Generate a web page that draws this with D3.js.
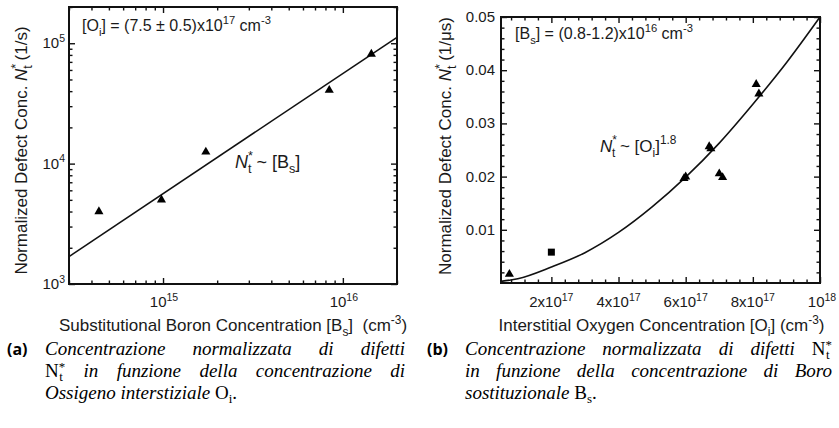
<!DOCTYPE html>
<html>
<head>
<meta charset="utf-8">
<script src="https://cdn.jsdelivr.net/npm/d3@7"></script>
<style>
	body { margin: 0; background: #fff; }
	svg { display: block; }
	text { font-family: "Liberation Sans", Arial, sans-serif; fill: #1a1a1a; }
	.cap text { font-family: "Liberation Serif", "Times New Roman", serif; fill: #000; }
</style>
</head>
<body>
<svg id="fig" width="839" height="428"></svg>
<script>
// ---- panel (a): defect conc. vs boron conc. (log-log) ----
const boronConc = [4.4e14, 9.8e14, 1.73e15, 8.4e15, 1.44e16];
const boronDefects = [4060, 5080, 12700, 41400, 82600];
const boronFitConc = [3e14, 2e16];
const boronFitDefects = [1690, 112000];
const boronXTicks = [1e15, 1e16];
const boronYTicks = [1e3, 1e4, 1e5];

// ---- panel (b): defect conc. vs oxygen conc. (linear) ----
const oxyConc = [0.75e17, 5.95e17, 6.0e17, 6.7e17, 6.75e17, 7.0e17, 7.1e17, 8.1e17, 8.18e17];
const oxyDefects = [0.0018, 0.0198, 0.0201, 0.0258, 0.0254, 0.0207, 0.0200, 0.0375, 0.0357];
const oxySquareConc = [2e17];
const oxySquareDefects = [0.0058];
const oxyFitConc = [0.5e17, 1e17, 2e17, 3e17, 4e17, 5e17, 6e17, 7e17, 8e17, 9e17, 10e17];
const oxyFitDefects = [0.0003, 0.0008, 0.0030, 0.0057, 0.0095, 0.0143, 0.0199, 0.0263, 0.0336, 0.0414, 0.0500];
const oxyXTicks = [2e17, 4e17, 6e17, 8e17, 1e18];
const oxyXLabels = [["2x10", "17"], ["4x10", "17"], ["6x10", "17"], ["8x10", "17"], ["10", "18"]];
const oxyYTicks = [0.01, 0.02, 0.03, 0.04, 0.05];
const oxyYLabels = ["0.01", "0.02", "0.03", "0.04", "0.05"];

const svg = d3.select('#fig');

// frame with inward ticks on all four sides
function frame(g, x, y, w, h, xMajor, xMinor, yMajor, yMinor) {
	const sides = [
		[d3.axisBottom(x), `translate(0,${h})`, xMajor, xMinor],
		[d3.axisTop(x), null, xMajor, xMinor],
		[d3.axisLeft(y), null, yMajor, yMinor],
		[d3.axisRight(y), `translate(${w},0)`, yMajor, yMinor]
	];
	sides.forEach(([ax, tr, major, minor]) => {
		[[major, -6], [minor, -3.5]].forEach(([vals, size]) => {
			const a = g.append('g').attr('transform', tr)
				.call(ax.tickValues(vals).tickSize(size).tickFormat(''));
			a.select('.domain').remove();
			a.selectAll('line').attr('stroke', '#111').attr('stroke-width', 1.4);
		});
	});
	g.append('rect').attr('width', w).attr('height', h)
		.attr('fill', 'none').attr('stroke', '#111').attr('stroke-width', 2);
}

// text with base + superscript
function powText(t, base, exp, fs) {
	t.append('tspan').text(base);
	t.append('tspan').attr('dy', -fs * 0.42).attr('font-size', fs * 0.7).text(exp);
}

// segments: [text, offset (y rel. baseline), size factor, italic, dx]
function segText(t, segs, fs) {
	let cur = 0;
	segs.forEach(([s, off, k, it, dx]) => {
		const ts = t.append('tspan').text(s).attr('dy', off - cur);
		cur = off;
		if (k !== 1) ts.attr('font-size', fs * k);
		if (it) ts.attr('font-style', 'italic');
		if (dx) ts.attr('dx', dx);
	});
}

function triangles(g, xs, ys, x, y) {
	g.selectAll(null).data(xs).enter().append('path')
		.attr('d', d3.symbol(d3.symbolTriangle, 36))
		.attr('transform', (d, i) => `translate(${x(d)},${y(ys[i]) + 0.8})`)
		.attr('fill', '#000');
}

// ===================== panel (a) =====================
{
	const L = 69, T = 7, W = 328, H = 277;
	const x = d3.scaleLog().domain([3e14, 2e16]).range([0, W]);
	const y = d3.scaleLog().domain([1e3, 2e5]).range([H, 0]);
	const g = svg.append('g').attr('transform', `translate(${L},${T})`);

	const xMinor = x.ticks().filter(v => !boronXTicks.includes(v));
	const yMinor = y.ticks().filter(v => !boronYTicks.includes(v));
	frame(g, x, y, W, H, boronXTicks, xMinor, boronYTicks, yMinor);

	g.append('path')
		.datum(boronFitConc.map((c, i) => [c, boronFitDefects[i]]))
		.attr('d', d3.line().x(d => x(d[0])).y(d => y(d[1])))
		.attr('fill', 'none').attr('stroke', '#111').attr('stroke-width', 1.6);
	triangles(g, boronConc, boronDefects, x, y);

	boronYTicks.forEach(v => {
		const t = g.append('text').attr('x', -4).attr('y', y(v) + 5)
			.attr('text-anchor', 'end').attr('font-size', 15);
		powText(t, '10', String(Math.round(Math.log10(v))), 15);
	});
	boronXTicks.forEach(v => {
		const t = g.append('text').attr('x', x(v) + 1).attr('y', H + 23)
			.attr('text-anchor', 'middle').attr('font-size', 15);
		powText(t, '10', String(Math.round(Math.log10(v))), 15);
	});

	const xt = g.append('text').attr('x', W / 2).attr('y', H + 47)
		.attr('text-anchor', 'middle').attr('font-size', 17).attr('xml:space', 'preserve');
	segText(xt, [['Substitutional Boron Concentration [B', 0, 1], ['s', 5, 0.7], [']\u00a0 (cm', 0, 1], ['-3', -7, 0.7], [')', 0, 1]], 17);

	const yt = g.append('text').attr('transform', `translate(${27 - L},${H / 2 + 5}) rotate(-90)`)
		.attr('text-anchor', 'middle').attr('font-size', 17);
	segText(yt, [['Normalized Defect Conc. ', 0, 1], ['N', 0, 1, true], ['*', -7, 0.75], ['t', 5, 0.75, false, -5], [' (1/s)', 0, 1]], 17);

	const a1 = g.append('text').attr('x', 13).attr('y', 24).attr('font-size', 16);
	segText(a1, [['[O', 0, 1], ['i', 5, 0.7], ['] = (7.5 \u00b1 0.5)x10', 0, 1], ['17', -7, 0.7], [' cm', 0, 1], ['-3', -7, 0.7]], 16);

	const a2 = g.append('text').attr('x', 166).attr('y', 161).attr('font-size', 18);
	segText(a2, [['N', 0, 1, true], ['*', -8, 0.7], ['t', 5, 0.7, false, -5], [' ~ [B', 0, 1], ['s', 5, 0.7], [']', 0, 1]], 18);
}

// ===================== panel (b) =====================
{
	const L = 501, T = 17, W = 319, H = 266;
	const x = d3.scaleLinear().domain([0.5e17, 1e18]).range([0, W]);
	const y = d3.scaleLinear().domain([0, 0.05]).range([H, 0]);
	const g = svg.append('g').attr('transform', `translate(${L},${T})`);

	const xMinor = d3.range(0.8e17, 1.0e18 + 1, 0.4e17).filter(v => !oxyXTicks.some(m => Math.abs(m - v) < 1e15));
	const yMinor = d3.range(0.002, 0.05, 0.002).filter(v => !oxyYTicks.some(m => Math.abs(m - v) < 1e-6));
	frame(g, x, y, W, H, oxyXTicks, xMinor, oxyYTicks, yMinor);

	g.append('path')
		.datum(oxyFitConc.map((c, i) => [c, oxyFitDefects[i]]))
		.attr('d', d3.line().curve(d3.curveMonotoneX).x(d => x(d[0])).y(d => y(d[1])))
		.attr('fill', 'none').attr('stroke', '#111').attr('stroke-width', 1.6);
	triangles(g, oxyConc, oxyDefects, x, y);
	g.selectAll(null).data(oxySquareConc).enter().append('rect')
		.attr('x', d => x(d) - 3.5).attr('y', (d, i) => y(oxySquareDefects[i]) - 3.5)
		.attr('width', 7).attr('height', 7).attr('fill', '#000');

	oxyYTicks.forEach((v, i) => {
		g.append('text').attr('x', -6).attr('y', y(v) + 5)
			.attr('text-anchor', 'end').attr('font-size', 15).text(oxyYLabels[i]);
	});
	oxyXTicks.forEach((v, i) => {
		const t = g.append('text').attr('x', x(v) + (i === 4 ? 2 : 0)).attr('y', H + 24)
			.attr('text-anchor', 'middle').attr('font-size', 15);
		powText(t, oxyXLabels[i][0], oxyXLabels[i][1], 15);
	});

	const xt = g.append('text').attr('x', W / 2 + 1).attr('y', H + 48)
		.attr('text-anchor', 'middle').attr('font-size', 17);
	segText(xt, [['Interstitial Oxygen Concentration [O', 0, 1], ['i', 5, 0.7], ['] (cm', 0, 1], ['-3', -7, 0.7], [')', 0, 1]], 17);

	const yt = g.append('text').attr('transform', `translate(${451 - L},${H / 2 - 4}) rotate(-90)`)
		.attr('text-anchor', 'middle').attr('font-size', 17);
	segText(yt, [['Normalized Defect Conc. ', 0, 1], ['N', 0, 1, true], ['*', -7, 0.75], ['t', 5, 0.75, false, -5], [' (1/\u03bcs)', 0, 1]], 17);

	const a1 = g.append('text').attr('x', 14).attr('y', 22).attr('font-size', 16);
	segText(a1, [['[B', 0, 1], ['s', 5, 0.7], ['] = (0.8-1.2)x10', 0, 1], ['16', -7, 0.7], [' cm', 0, 1], ['-3', -7, 0.7]], 16);

	const a2 = g.append('text').attr('x', 99).attr('y', 135).attr('font-size', 17);
	segText(a2, [['N', 0, 1, true], ['*', -8, 0.7], ['t', 5, 0.7, false, -5], [' ~ [O', 0, 1], ['i', 5, 0.7], [']', 0, 1], ['1.8', -8, 0.7]], 17);
}

// ===================== captions =====================
const cap = svg.append('g').attr('class', 'cap');
const FS = 19;

// word = list of [text, kind]; kinds: i italic, r roman, sup, sub, ssub (sub stacked under sup)
function wordText(g, word, y) {
	const t = g.append('text').attr('y', y).attr('font-size', FS);
	let cur = 0;
	word.forEach(([s, k]) => {
		const off = k === 'sup' ? -6 : (k === 'sub' || k === 'ssub') ? 4 : 0;
		const ts = t.append('tspan').text(s).attr('dy', off - cur);
		cur = off;
		ts.attr('font-style', k === 'i' ? 'italic' : 'normal');
		if (k === 'sup' || k === 'sub' || k === 'ssub') ts.attr('font-size', FS * 0.68);
		if (k === 'ssub') ts.attr('dx', -6);
	});
	return t;
}

function captionLine(g, words, x0, x1, y, justify) {
	const ts = words.map(w => wordText(g, w, y));
	const widths = ts.map(t => t.node().getBBox().width);
	const total = d3.sum(widths);
	const gap = justify ? (x1 - x0 - total) / (words.length - 1) : FS * 0.25;
	let xx = x0;
	ts.forEach((t, i) => { t.attr('x', xx); xx += widths[i] + gap; });
}

const it = s => s.split(' ').map(w => [[w, 'i']]);
const Nstar = [['N', 'r'], ['*', 'sup'], ['t', 'ssub']];

const capA = [
	[it('Concentrazione normalizzata di difetti'), true],
	[[Nstar].concat(it('in funzione della concentrazione di')), true],
	[it('Ossigeno interstiziale').concat([[['O', 'r'], ['i', 'sub'], ['.', 'r']]]), false]
];
const capB = [
	[it('Concentrazione normalizzata di difetti').concat([Nstar]), true],
	[it('in funzione della concentrazione di Boro'), true],
	[it('sostituzionale').concat([[['B', 'r'], ['s', 'sub'], ['.', 'r']]]), false]
];
const capY = [355, 377, 399];

cap.append('text').attr('x', 7).attr('y', capY[0]).attr('font-size', 16)
	.style('font-family', '"Open Sans", sans-serif').attr('font-weight', 700).text('(a)');
cap.append('text').attr('x', 427).attr('y', capY[0]).attr('font-size', 16)
	.style('font-family', '"Open Sans", sans-serif').attr('font-weight', 700).text('(b)');

capA.forEach(([words, j], i) => captionLine(cap, words, 45, 405, capY[i], j));
capB.forEach(([words, j], i) => captionLine(cap, words, 465, 832, capY[i], j));
</script>
</body>
</html>
